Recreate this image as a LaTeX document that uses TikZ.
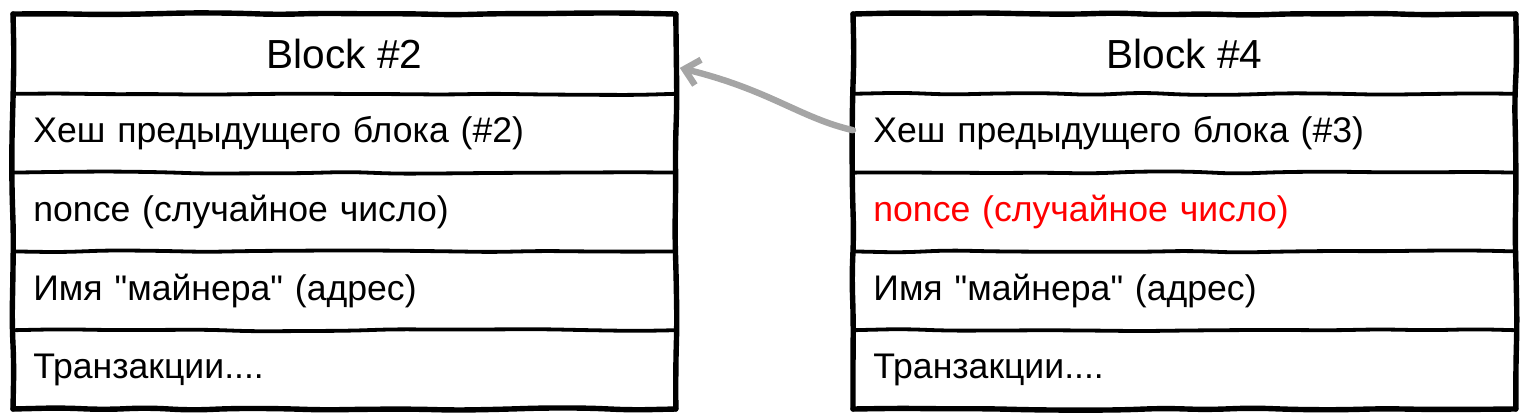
\documentclass[tikz,border=0pt]{standalone}
\usepackage{fontspec}
\setmainfont{Liberation Sans}[Ligatures=TeXOff]
\usetikzlibrary{positioning, arrows.meta, decorations.pathmorphing}
\definecolor{linkgray}{RGB}{165,165,165}
\definecolor{noncered}{RGB}{255,0,0}

\begin{document}
\begin{tikzpicture}[x=0.5pt, y=-0.5pt,
  hdr/.style={minimum width=331pt, minimum height=39.5pt, inner sep=0pt,
    font=\fontsize{20.3}{22}\selectfont},
  fld/.style={minimum width=331pt, minimum height=39pt, text width=311pt,
    inner xsep=10pt, inner ysep=0pt, align=left,
    font=\fontsize{17.8}{20}\selectfont},
  frame/.style={line width=2.7pt, line cap=round, decorate,
    decoration={random steps, segment length=22pt, amplitude=0.6pt},
    rounded corners=8pt},
  sep/.style={line width=1.9pt, line cap=round, decorate,
    decoration={random steps, segment length=24pt, amplitude=0.6pt},
    rounded corners=8pt},
  link/.style={-{Straight Barb[length=7pt, width=13pt]}, line width=3.2pt,
    linkgray, line cap=round},
]
\pgfmathsetseed{7}
\useasboundingbox (0,0) rectangle (1526,419);

% block #2
\node[hdr, anchor=north west] (hdr2) at (13,14) {Block \#2};
\node[fld, below=0pt of hdr2] (prev2) {Хеш предыдущего блока (\#2)};
\node[fld, below=0pt of prev2] (nonce2) {nonce (случайное число)};
\node[fld, below=0pt of nonce2] (miner2) {Имя "майнера" (адрес)};
\node[fld, below=0pt of miner2] (tx2) {Транзакции....};

% block #4
\node[hdr, anchor=north west] (hdr4) at (853,14) {Block \#4};
\node[fld, below=0pt of hdr4] (prev4) {Хеш предыдущего блока (\#3)};
\node[fld, below=0pt of prev4, text=noncered] (nonce4) {nonce (случайное число)};
\node[fld, below=0pt of nonce4] (miner4) {Имя "майнера" (адрес)};
\node[fld, below=0pt of miner4] (tx4) {Транзакции....};

\foreach \b in {2,4} {
  \draw[frame] (hdr\b.north west) -- (hdr\b.north east);
  \draw[frame] (hdr\b.north east) -- (tx\b.south east);
  \draw[frame] (tx\b.south east) -- (tx\b.south west);
  \draw[frame] (tx\b.south west) -- (hdr\b.north west);
  \foreach \r in {hdr,prev,nonce,miner}
    \draw[sep] (\r\b.south west) -- (\r\b.south east);
}

% link
\draw[link] ([yshift=1.5pt]prev4.west) .. controls (800,118) and (770,90)
  .. ([xshift=2pt, yshift=-7pt]hdr2.east);
\end{tikzpicture}
\end{document}
